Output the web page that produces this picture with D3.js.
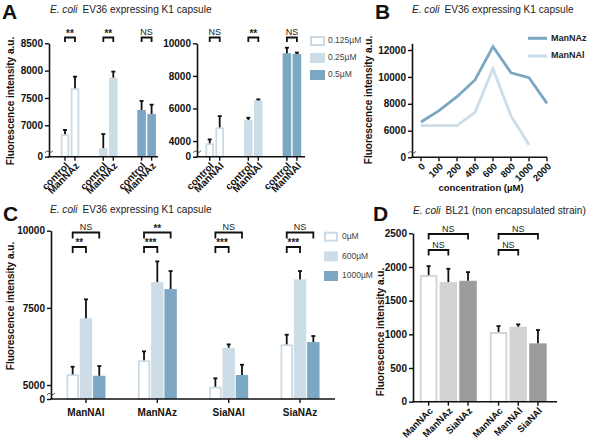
<!DOCTYPE html>
<html><head><meta charset="utf-8">
<script src="https://cdn.jsdelivr.net/npm/d3@7"></script>
<style>body{margin:0;background:#fff}svg{display:block}</style>
</head><body>
<script>
// ---------- DATA ----------
// Panel A (left): control vs ManNAz at three concentrations
const aGroups = ["0.125µM", "0.25µM", "0.5µM"];
const aLeftSubs = ["control", "ManNAz"];
const aLeftVals = [[6835, 7678], [6579, 7872], [7280, 7207]];
const aLeftErr  = [[80, 212], [261, 110], [165, 170]];
const aLeftSig  = ["**", "**", "NS"];
const aLeftTicks = [7000, 7500, 8000, 8500];
// Panel A (right): control vs ManNAl
const aRightSubs = ["control", "ManNAl"];
const aRightVals = [[3860, 4840], [5290, 6500], [9390, 9350]];
const aRightErr  = [[240, 690], [140, 60], [340, 80]];
const aRightSig  = ["NS", "**", "NS"];
const aRightTicks = [4000, 6000, 8000, 10000];
// Panel B
const bConc = ["0", "100", "200", "400", "600", "800", "1000", "2000"];
const bManNAz = [6650, 7490, 8530, 9770, 12250, 10310, 9940, 8030];
const bManNAl = [6370, 6370, 6370, 7370, 10610, 7090, 4960];
const bSeries = ["ManNAz", "ManNAl"];
const bTicks = [6000, 8000, 10000, 12000];
// Panel C
const cGroups = ["ManNAl", "ManNAz", "SiaNAl", "SiaNAz"];
const cConc = ["0µM", "600µM", "1000µM"];
const cVals = [[5346, 7160, 5300], [5800, 8335, 8108], [4945, 6208, 5324], [6318, 8422, 6393]];
const cErr  = [[247, 615, 315], [290, 671, 584], [272, 109, 333], [311, 270, 194]];
const cSigOuter = ["NS", "**", "NS", "NS"];
const cSigInner = ["**", "***", "***", "***"];
const cTicks = [5000, 7500, 10000];
// Panel D
const dGroups = ["ManNAz set", "ManNAl set"];
const dLabels = [["ManNAc", "ManNAz", "SiaNAz"], ["ManNAc", "ManNAl", "SiaNAl"]];
const dVals = [[1880, 1776, 1795], [1034, 1113, 866]];
const dErr  = [[133, 197, 129], [89, 35, 198]];
const dSigOuter = ["NS", "NS"];
const dSigInner = ["NS", "NS"];
const dTicks = [0, 500, 1000, 1500, 2000, 2500];

// ---------- STYLE ----------
const FONT = "'Liberation Sans', Arial, Helvetica, sans-serif";
const blueStroke = "#cadbe5", blueLight = "#cddde7", blueDark = "#7ba7c2";
const greyStroke = "#d2d2d2", greyLight = "#d3d3d3", greyDark = "#9c9c9c";

const svg = d3.select("body").append("svg").attr("width", 600).attr("height", 439)
  .style("font-family", FONT);

function styleAxis(g, fs) {
  g.selectAll(".domain").attr("stroke", "#111").attr("stroke-width", 1.6);
  g.selectAll(".tick line").attr("stroke", "#111").attr("stroke-width", 1.4);
  g.selectAll(".tick text").attr("fill", "#111").attr("font-weight", "bold")
    .attr("font-size", fs || 10).attr("font-family", FONT);
}
function yAxis(x0, y, ticks, breakVal) {
  const vals = breakVal != null ? [breakVal, ...ticks] : ticks;
  const g = svg.append("g").attr("transform", `translate(${x0},0)`)
    .call(d3.axisLeft(y).tickValues(vals).tickSize(4).tickSizeOuter(0).tickPadding(2)
      .tickFormat(d => d === breakVal ? "0" : d));
  styleAxis(g);
  if (breakVal != null) {
    const yb = y.range()[0] - 5;
    svg.append("path").attr("d", `M${x0 - 4},${yb + 1} q2,-3 4,-1 q2,2 4,-1`)
      .attr("fill", "none").attr("stroke", "#333").attr("stroke-width", 0.8);
  }
  return g;
}
function xLine(x0, x1, yb) {
  svg.append("line").attr("x1", x0 - 0.8).attr("x2", x1).attr("y1", yb).attr("y2", yb)
    .attr("stroke", "#111").attr("stroke-width", 1.6);
}
function xTick(x, yb) {
  svg.append("line").attr("x1", x).attr("x2", x).attr("y1", yb).attr("y2", yb + 4)
    .attr("stroke", "#111").attr("stroke-width", 1.4);
}
function rotLabel(x, yb, txt, fs) {
  svg.append("text").attr("transform", `translate(${x + 3},${yb + 8}) rotate(-45)`)
    .attr("text-anchor", "end").attr("dominant-baseline", "middle")
    .attr("font-weight", "bold").attr("font-size", fs || 10).attr("fill", "#111").text(txt);
}
function yLabel(x, yc) {
  svg.append("text").attr("transform", `translate(${x},${yc}) rotate(-90)`)
    .attr("text-anchor", "middle").attr("font-weight", "bold").attr("font-size", 10)
    .attr("fill", "#111").text("Fluorescence intensity a.u.");
}
function title(x, yb, rest) {
  const t = svg.append("text").attr("x", x).attr("y", yb).attr("font-size", 10.1).attr("fill", "#222");
  t.append("tspan").attr("font-style", "italic").text("E. coli");
  t.append("tspan").attr("dx", 5).text(rest);
}
function panelLetter(x, yb, L) {
  svg.append("text").attr("x", x).attr("y", yb).attr("font-size", 21).attr("font-weight", "bold")
    .attr("fill", "#111").text(L);
}
function bar(x, w, y0, y1, fill, stroke) {
  if (stroke) {
    svg.append("rect").attr("x", x + 0.9).attr("y", y1 + 0.9).attr("width", w - 1.8)
      .attr("height", Math.max(0, y0 - y1 - 0.9)).attr("fill", "#fff")
      .attr("stroke", stroke).attr("stroke-width", 1.8);
  } else {
    svg.append("rect").attr("x", x).attr("y", y1).attr("width", w).attr("height", y0 - y1).attr("fill", fill);
  }
}
function errBar(x, yTop, yErr) {
  svg.append("line").attr("x1", x).attr("x2", x).attr("y1", yTop).attr("y2", yErr)
    .attr("stroke", "#111").attr("stroke-width", 1.8);
  svg.append("line").attr("x1", x - 2).attr("x2", x + 2).attr("y1", yErr).attr("y2", yErr)
    .attr("stroke", "#111").attr("stroke-width", 1.8);
}
function bracket(xa, xb, yTop, leg, label) {
  svg.append("path").attr("d", `M${xa},${yTop + leg} V${yTop} H${xb} V${yTop + leg}`)
    .attr("fill", "none").attr("stroke", "#111").attr("stroke-width", 1.8);
  const isStar = label.indexOf("*") >= 0;
  svg.append("text").attr("x", (xa + xb) / 2).attr("y", isStar ? yTop - 1 : yTop - 2.5)
    .attr("text-anchor", "middle").attr("font-size", isStar ? 10 : 9)
    .attr("font-weight", isStar ? "bold" : "normal").attr("fill", "#222").text(label);
}

// ---------- PANEL A ----------
panelLetter(2, 19, "A");
title(50, 13, "EV36 expressing K1 capsule");
yLabel(14, 101);
const aColors = [null, blueLight, blueDark];
function panelA(x0, x1, yDom, vals, errs, subs, sig, ticks, pad, align) {
  const yb = 156.7, yt = 43.3;
  const y = d3.scaleLinear().domain(yDom).range([yb, yt]);
  const gx = d3.scalePoint().domain(aGroups).range([x0, x1]).padding(pad).align(align);
  const sx = d3.scalePoint().domain(subs).range([-5, 5]);
  const bw = 8.6;
  aGroups.forEach((g, i) => {
    subs.forEach((s, j) => {
      const cx = gx(g) + sx(s);
      bar(cx - bw / 2, bw, yb, y(vals[i][j]), aColors[i], i === 0 ? blueStroke : null);
    });
  });
  aGroups.forEach((g, i) => {
    subs.forEach((s, j) => {
      const cx = gx(g) + sx(s);
      errBar(cx, y(vals[i][j]), y(vals[i][j] + errs[i][j]));
    });
    bracket(gx(g) + sx(subs[0]), gx(g) + sx(subs[1]), 37.5, 4.5, sig[i]);
  });
  yAxis(x0, y, ticks, yDom[0]);
  xLine(x0, x1, yb);
  aGroups.forEach(g => subs.forEach(s => {
    xTick(gx(g) + sx(s), yb);
    rotLabel(gx(g) + sx(s), yb, s, 10);
  }));
}
panelA(49, 158, [6425, 8500], aLeftVals, aLeftErr, aLeftSubs, aLeftSig, aLeftTicks, 0.423, 0.648);
panelA(197, 305, [3040, 10000], aRightVals, aRightErr, aRightSubs, aRightSig, aRightTicks, 0.399, 0.575);
// legend A
const legA = d3.scalePoint().domain(aGroups).range([41, 75]);
aGroups.forEach((g, i) => {
  const yc = legA(g);
  if (i === 0) {
    svg.append("rect").attr("x", 311).attr("y", yc - 4).attr("width", 13).attr("height", 8)
      .attr("fill", "#fff").attr("stroke", blueStroke).attr("stroke-width", 2);
  } else {
    svg.append("rect").attr("x", 310).attr("y", yc - 5).attr("width", 15).attr("height", 10)
      .attr("fill", aColors[i]);
  }
  svg.append("text").attr("x", 328).attr("y", yc).attr("dominant-baseline", "middle")
    .attr("font-size", 8.5).attr("fill", "#444").text(g);
});

// ---------- PANEL B ----------
panelLetter(375, 19, "B");
title(412, 13, "EV36 expressing K1 capsule");
yLabel(372, 100);
{
  const x0 = 412, x1 = 547, yb = 157.3;
  const y = d3.scaleLinear().domain([4020, 12500]).range([yb, 43.3]);
  const x = d3.scalePoint().domain(bConc).range([x0, x1]).padding(0.25).align(1);
  const colors = [blueDark, blueLight];
  [bManNAl, bManNAz].forEach((vals, k) => {
    const line = d3.line().x((d, i) => x(bConc[i])).y(d => y(d));
    svg.append("path").datum(vals).attr("d", line).attr("fill", "none")
      .attr("stroke", k === 0 ? blueLight : blueDark).attr("stroke-width", 2.8)
      .attr("stroke-linejoin", "miter");
  });
  yAxis(x0, y, bTicks, 4020);
  xLine(x0, x1, yb);
  bConc.forEach(c => { xTick(x(c), yb); rotLabel(x(c), yb, c, 9.5); });
  svg.append("text").attr("x", 481).attr("y", 191).attr("text-anchor", "middle")
    .attr("font-weight", "bold").attr("font-size", 9.5).attr("fill", "#111").text("concentration (µM)");
  const legB = d3.scalePoint().domain(bSeries).range([38.3, 56]);
  bSeries.forEach((s, i) => {
    svg.append("line").attr("x1", 528).attr("x2", 547).attr("y1", legB(s)).attr("y2", legB(s))
      .attr("stroke", colors[i]).attr("stroke-width", 3);
    svg.append("text").attr("x", 551).attr("y", legB(s)).attr("dominant-baseline", "middle")
      .attr("font-weight", "bold").attr("font-size", 9).attr("fill", "#222").text(s);
  });
}

// ---------- PANEL C ----------
panelLetter(3, 221, "C");
title(50, 213, "EV36 expressing K1 capsule");
yLabel(14, 306);
{
  const x0 = 51, x1 = 335, yb = 399;
  const y = d3.scaleLinear().domain([4547, 10000]).range([yb, 230.7]);
  const gx = d3.scalePoint().domain(cGroups).range([x0, x1]).padding(0.49).align(0.5);
  const sx = d3.scalePoint().domain(cConc).range([-13.3, 13.3]);
  const bw = 12.4;
  const fills = [null, blueLight, blueDark];
  cGroups.forEach((g, i) => cConc.forEach((c, j) => {
    const cx = gx(g) + sx(c);
    bar(cx - bw / 2, bw, yb, y(cVals[i][j]), fills[j], j === 0 ? blueStroke : null);
  }));
  cGroups.forEach((g, i) => {
    cConc.forEach((c, j) => {
      const cx = gx(g) + sx(c);
      errBar(cx, y(cVals[i][j]), y(cVals[i][j] + cErr[i][j]));
    });
    bracket(gx(g) + sx(cConc[0]), gx(g) + sx(cConc[2]), 232.5, 6, cSigOuter[i]);
    bracket(gx(g) + sx(cConc[0]), gx(g) + sx(cConc[1]), 247, 6, cSigInner[i]);
  });
  yAxis(x0, y, cTicks, 4547);
  xLine(x0, x1, yb);
  cGroups.forEach(g => {
    xTick(gx(g), yb);
    svg.append("text").attr("x", gx(g)).attr("y", 416).attr("text-anchor", "middle")
      .attr("font-weight", "bold").attr("font-size", 10).attr("fill", "#111").text(g);
  });
  const legC = d3.scalePoint().domain(cConc).range([236.7, 276]);
  cConc.forEach((c, j) => {
    const yc = legC(c);
    if (j === 0) {
      svg.append("rect").attr("x", 325).attr("y", yc - 4).attr("width", 12).attr("height", 8)
        .attr("fill", "#fff").attr("stroke", blueStroke).attr("stroke-width", 2);
    } else {
      svg.append("rect").attr("x", 324).attr("y", yc - 5).attr("width", 14).attr("height", 10)
        .attr("fill", fills[j]);
    }
    svg.append("text").attr("x", 342).attr("y", yc).attr("dominant-baseline", "middle")
      .attr("font-size", 8.5).attr("fill", "#444").text(c);
  });
}

// ---------- PANEL D ----------
panelLetter(373, 221, "D");
title(413, 214, "BL21 (non encapsulated strain)");
yLabel(384, 332);
{
  const x0 = 413, x1 = 557, yb = 401.7;
  const y = d3.scaleLinear().domain([0, 2500]).range([yb, 233.3]);
  const gx = d3.scalePoint().domain(dGroups).range([x0, x1]).padding(0.53).align(0.477);
  const sx = d3.scalePoint().domain([0, 1, 2]).range([-19.7, 19.7]);
  const bw = 17.5;
  const fills = [null, greyLight, greyDark];
  dGroups.forEach((g, i) => [0, 1, 2].forEach(j => {
    const cx = gx(g) + sx(j);
    bar(cx - bw / 2, bw, yb, y(dVals[i][j]), fills[j], j === 0 ? greyStroke : null);
  }));
  dGroups.forEach((g, i) => {
    [0, 1, 2].forEach(j => {
      const cx = gx(g) + sx(j);
      errBar(cx, y(dVals[i][j]), y(dVals[i][j] + dErr[i][j]));
    });
    bracket(gx(g) + sx(0), gx(g) + sx(2), 234, 5.5, dSigOuter[i]);
    bracket(gx(g) + sx(0), gx(g) + sx(1), 250, 5.5, dSigInner[i]);
  });
  yAxis(x0, y, dTicks, null);
  xLine(x0, x1, yb);
  dGroups.forEach((g, i) => [0, 1, 2].forEach(j => {
    const cx = gx(g) + sx(j);
    xTick(cx, yb);
    rotLabel(cx, yb, dLabels[i][j], 9.5);
  }));
}
</script>
</body></html>
